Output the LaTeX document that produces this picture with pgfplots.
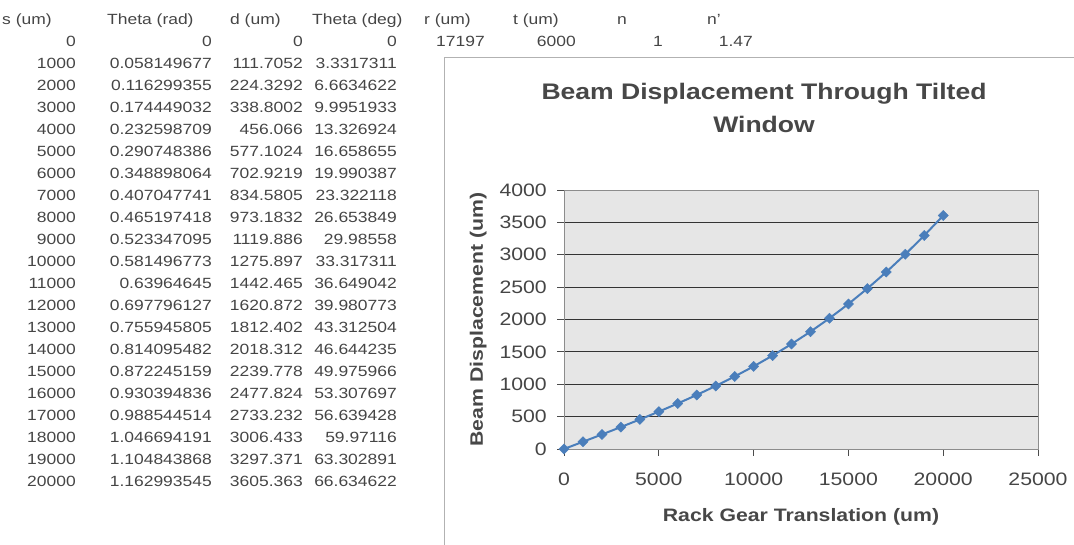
\documentclass[border=0pt]{standalone}
\usepackage{fontspec}
\setmainfont{Liberation Sans}[FakeStretch=1.18]
\usepackage{pgfplots}
\usepackage{pgfplotstable}
\pgfplotsset{compat=1.18}
\definecolor{txt}{HTML}{454545}
\definecolor{ser}{RGB}{74,126,187}
\definecolor{bg}{HTML}{E6E6E6}
\pgfplotstableread{
s d
0 0
1000 111.7052
2000 224.3292
3000 338.8002
4000 456.066
5000 577.1024
6000 702.9219
7000 834.5805
8000 973.1832
9000 1119.886
10000 1275.897
11000 1442.465
12000 1620.872
13000 1812.402
14000 2018.312
15000 2239.778
16000 2477.824
17000 2733.232
18000 3006.433
19000 3297.371
20000 3605.363
}\beam
\begin{document}
\begin{tikzpicture}[x=1pt,y=1pt]
\path[use as bounding box] (0,0) rectangle (1074,545);
\draw[black!30, line width=1pt] (444,-5) -- (444,545-58) -- (1080,545-58);
\begin{scope}[every node/.style={inner sep=0pt, text=txt, font=\fontsize{14.8}{17}\selectfont}]
\node[anchor=base west] at (2,520) {s (um)};
\node[anchor=base west] at (107,520) {Theta (rad)};
\node[anchor=base west] at (230,520) {d (um)};
\node[anchor=base west] at (312,520) {Theta (deg)};
\node[anchor=base west] at (424,520) {r (um)};
\node[anchor=base west] at (513,520) {t (um)};
\node[anchor=base west] at (617,520) {n};
\node[anchor=base west] at (707,520) {n'};
\node[anchor=base east] at (485,498) {17197};
\node[anchor=base east] at (576,498) {6000};
\node[anchor=base east] at (663,498) {1};
\node[anchor=base east] at (753,498) {1.47};
\foreach \s/\a/\d/\g [count=\i from 0] in {
0/0/0/0,
1000/0.058149677/111.7052/3.3317311,
2000/0.116299355/224.3292/6.6634622,
3000/0.174449032/338.8002/9.9951933,
4000/0.232598709/456.066/13.326924,
5000/0.290748386/577.1024/16.658655,
6000/0.348898064/702.9219/19.990387,
7000/0.407047741/834.5805/23.322118,
8000/0.465197418/973.1832/26.653849,
9000/0.523347095/1119.886/29.98558,
10000/0.581496773/1275.897/33.317311,
11000/0.63964645/1442.465/36.649042,
12000/0.697796127/1620.872/39.980773,
13000/0.755945805/1812.402/43.312504,
14000/0.814095482/2018.312/46.644235,
15000/0.872245159/2239.778/49.975966,
16000/0.930394836/2477.824/53.307697,
17000/0.988544514/2733.232/56.639428,
18000/1.046694191/3006.433/59.97116,
19000/1.104843868/3297.371/63.302891,
20000/1.162993545/3605.363/66.634622}{
\node[anchor=base east] at (76,{498-22*\i}) {\s};
\node[anchor=base east] at (212,{498-22*\i}) {\a};
\node[anchor=base east] at (303,{498-22*\i}) {\d};
\node[anchor=base east] at (397,{498-22*\i}) {\g};
}
\end{scope}
\begin{axis}[
  at={(564pt,96pt)}, anchor=south west,
  width=474pt, height=259pt, scale only axis,
  xmin=0, xmax=25000, ymin=0, ymax=4000,
  xtick={0,5000,...,25000}, ytick={0,500,...,4000},
  scaled ticks=false,
  /pgf/number format/assume math mode=true,
  /pgf/number format/set thousands separator={},
  tick label style={font=\fontsize{18}{20}\selectfont, text=txt},
  xticklabel style={anchor=north, inner sep=0pt, yshift=-17pt},
  yticklabel style={anchor=east, inner sep=0pt, xshift=-10pt},
  tick align=outside, xtick pos=left, ytick pos=left,
  major tick length=7pt,
  tick style={black!70, line width=0.8pt},
  axis line style={black!45, line width=0.8pt},
  axis background/.style={fill=bg},
  ymajorgrids, grid style={black!80, line width=0.9pt},
  title={Beam Displacement Through Tilted\\Window},
  title style={at={(rel axis cs:0.422,1.295)}, anchor=center, align=center,
    font=\fontsize{22.5}{33}\selectfont\bfseries, text=black!72},
  xlabel={Rack Gear Translation (um)},
  ylabel={Beam Displacement (um)},
  label style={font=\fontsize{18}{20}\selectfont\bfseries, text=black!72},
  xlabel style={at={(rel axis cs:0.5,-0.2625)}, anchor=center},
  ylabel style={at={(rel axis cs:-0.181,0.5)}, anchor=center, rotate=0},
]
\addplot[color=ser, line width=2pt, mark=square*, mark size=3.6pt, mark options={fill=ser, draw=ser, line width=0.4pt, rotate=45}] table[x=s, y=d] {\beam};
\end{axis}
\end{tikzpicture}
\end{document}
